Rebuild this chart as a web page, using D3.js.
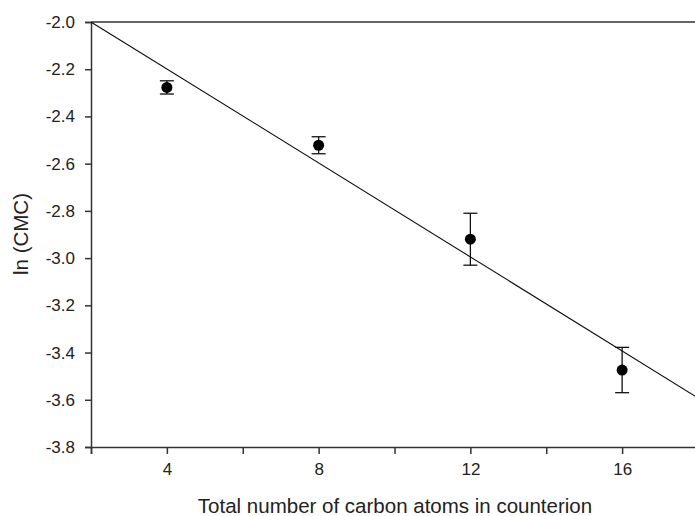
<!DOCTYPE html>
<html>
<head>
<meta charset="utf-8">
<script src="https://cdn.jsdelivr.net/npm/d3@7"></script>
<style>
  html, body { margin: 0; padding: 0; background: #fff; }
  svg { display: block; }
  text { font-family: "Liberation Sans", Arial, sans-serif; fill: #222; }
</style>
</head>
<body>
<svg id="chart" width="695" height="516"></svg>
<script>
// Data
const carbonAtoms = [4, 8, 12, 16];
const lnCMC = [-2.277, -2.522, -2.920, -3.474];
const lnCMCError = [0.028, 0.036, 0.110, 0.096];
// fitted line endpoints
const fitX = [2, 18];
const fitY = [-2.0, -3.592];
const xTicks = [2, 4, 6, 8, 10, 12, 14, 16, 18];
const xTickLabels = [4, 8, 12, 16];
const yTicks = [-2.0, -2.2, -2.4, -2.6, -2.8, -3.0, -3.2, -3.4, -3.6, -3.8];

const svg = d3.select("#chart");
const mLeft = 91, mRight = 698, mTop = 22, mBottom = 447;

const x = d3.scaleLinear().domain([2, 18]).range([mLeft, mRight]);
const y = d3.scaleLinear().domain([-2.0, -3.8]).range([mTop, mBottom]);

const axisColor = "#333";

// clip
svg.append("clipPath").attr("id", "clip")
  .append("rect").attr("x", mLeft).attr("y", mTop).attr("width", mRight - mLeft).attr("height", mBottom - mTop);

// top frame line
svg.append("line").attr("x1", mLeft).attr("x2", mRight).attr("y1", mTop).attr("y2", mTop)
  .attr("stroke", axisColor).attr("stroke-width", 1.5);

// Y axis
const yAxis = d3.axisLeft(y).tickValues(yTicks).tickFormat(d => d.toFixed(1)).tickSize(6).tickPadding(10);
const gy = svg.append("g").attr("transform", `translate(${mLeft},0)`).call(yAxis);
gy.select(".domain").attr("stroke", axisColor).attr("stroke-width", 1.5);
gy.selectAll(".tick line").attr("stroke", axisColor).attr("stroke-width", 1.5);
gy.selectAll(".tick text").style("font-size", "17px").attr("fill", "#333");

// X axis
const xAxis = d3.axisBottom(x).tickValues(xTicks)
  .tickFormat(d => xTickLabels.includes(d) ? d : "").tickSize(7).tickPadding(9);
const gx = svg.append("g").attr("transform", `translate(0,${mBottom})`).call(xAxis);
gx.select(".domain").attr("stroke", axisColor).attr("stroke-width", 1.5);
gx.selectAll(".tick line").attr("stroke", axisColor).attr("stroke-width", 1.5);
gx.selectAll(".tick text").style("font-size", "17px").attr("fill", "#333");

// fit line
const line = d3.line().x(d => x(d[0])).y(d => y(d[1]));
svg.append("path").datum(fitX.map((v, i) => [v, fitY[i]]))
  .attr("d", line).attr("fill", "none").attr("stroke", "#111").attr("stroke-width", 1.1)
  .attr("clip-path", "url(#clip)");

// error bars
const pts = carbonAtoms.map((c, i) => ({ c, v: lnCMC[i], e: lnCMCError[i] }));
const eb = svg.append("g").attr("stroke", "#111").attr("stroke-width", 1.3);
pts.forEach(p => {
  eb.append("line").attr("x1", x(p.c)).attr("x2", x(p.c)).attr("y1", y(p.v + p.e)).attr("y2", y(p.v - p.e));
  eb.append("line").attr("x1", x(p.c) - 7).attr("x2", x(p.c) + 7).attr("y1", y(p.v + p.e)).attr("y2", y(p.v + p.e));
  eb.append("line").attr("x1", x(p.c) - 7).attr("x2", x(p.c) + 7).attr("y1", y(p.v - p.e)).attr("y2", y(p.v - p.e));
});

// points
svg.append("g").selectAll("circle").data(pts).join("circle")
  .attr("cx", d => x(d.c)).attr("cy", d => y(d.v)).attr("r", 5.5).attr("fill", "#000");

// axis titles
svg.append("text").attr("x", 395).attr("y", 513).attr("text-anchor", "middle")
  .style("font-size", "20.5px").attr("fill", "#222").text("Total number of carbon atoms in counterion");
svg.append("text").attr("transform", "translate(28,234) rotate(-90)").attr("text-anchor", "middle")
  .style("font-size", "20.5px").attr("fill", "#222").text("ln (CMC)");
</script>
</body>
</html>
